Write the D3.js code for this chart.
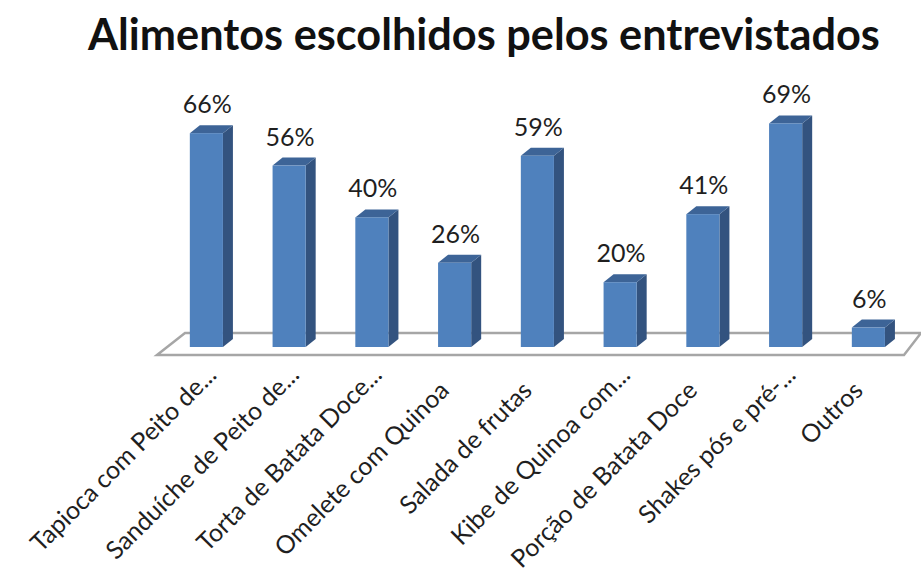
<!DOCTYPE html>
<html>
<head>
<meta charset="utf-8">
<script src="https://cdn.jsdelivr.net/npm/d3@7"></script>
<style>
  html, body { margin: 0; padding: 0; background: #fff; }
  svg { display: block; }
</style>
</head>
<body>
<svg id="chart" width="921" height="579"></svg>
<script>
// Chart data
const title = "Alimentos escolhidos pelos entrevistados";
const categories = [
  "Tapioca com Peito de...",
  "Sanduíche de Peito de...",
  "Torta de Batata Doce...",
  "Omelete com Quinoa",
  "Salada de frutas",
  "Kibe de Quinoa com...",
  "Porção de Batata Doce",
  "Shakes pós e pré-...",
  "Outros"
];
const values = [66, 56, 40, 26, 59, 20, 41, 69, 6];

const W = 921, H = 579;
const svg = d3.select("#chart");
const FONT = "Lato, 'Open Sans', 'DejaVu Sans', sans-serif";

// Geometry of the pseudo-3D plot
const baseY = 347;          // bottom of bar front faces
const depthX = 10, depthY = 8;

const x = d3.scaleBand()
  .domain(categories)
  .range([165, 909.75])
  .paddingInner(0.6)
  .paddingOuter(0.3);

const y = d3.scaleLinear()
  .domain([0, 100])
  .range([baseY, baseY - 324]);

// Title, sized to span its line
const titleText = svg.append("text")
  .attr("x", 484)
  .attr("y", 50)
  .attr("text-anchor", "middle")
  .attr("font-family", FONT)
  .attr("font-weight", "bold")
  .attr("font-size", 40)
  .attr("fill", "#111")
  .text(title);
const tw = titleText.node().getComputedTextLength();
titleText.attr("font-size", 40 * 792 / tw);

// Floor
const floorBackY = 333, floorFrontY = 355;
const floorPts = [
  [157, floorFrontY],
  [185, floorBackY],
  [921, floorBackY],
  [904, floorFrontY]
];
svg.append("path")
  .attr("d", d3.line()(floorPts) + "Z")
  .attr("fill", "#fff")
  .attr("stroke", "#a6a6a6")
  .attr("stroke-width", 2.5)
  .attr("stroke-linejoin", "miter");

// Bars
const bars = svg.append("g").selectAll("g")
  .data(categories.map((c, i) => ({ c, v: values[i] })))
  .join("g");

bars.each(function (d) {
  const g = d3.select(this);
  const x0 = x(d.c), bw = x.bandwidth();
  const yt = y(d.v);
  // side face
  g.append("path")
    .attr("d", d3.line()([
      [x0 + bw, yt], [x0 + bw + depthX, yt - depthY],
      [x0 + bw + depthX, baseY - depthY], [x0 + bw, baseY]
    ]) + "Z")
    .attr("fill", "#33537f");
  // top face
  g.append("path")
    .attr("d", d3.line()([
      [x0, yt], [x0 + depthX, yt - depthY],
      [x0 + bw + depthX, yt - depthY], [x0 + bw, yt]
    ]) + "Z")
    .attr("fill", "#3d6497");
  // front face
  g.append("rect")
    .attr("x", x0)
    .attr("y", yt)
    .attr("width", bw)
    .attr("height", baseY - yt)
    .attr("fill", "#4f81bd");
  // value label
  g.append("text")
    .attr("x", x0 + bw / 2 + 1)
    .attr("y", yt - 20)
    .attr("text-anchor", "middle")
    .attr("font-family", FONT)
    .attr("font-size", 25)
    .attr("fill", "#1f1f1f")
    .text(d.v + "%");
});

// Category labels, rotated; truncated names run a little further along their line
svg.append("g").selectAll("text")
  .data(categories)
  .join("text")
  .attr("transform", d => `translate(${x(d) + x.bandwidth() / 2 - 4},${392}) rotate(-45)`)
  .attr("dx", d => d.endsWith("...") ? 22 : 0)
  .attr("text-anchor", "end")
  .attr("font-family", FONT)
  .attr("font-size", 25)
  .attr("fill", "#1f1f1f")
  .text(d => d);
</script>
</body>
</html>
